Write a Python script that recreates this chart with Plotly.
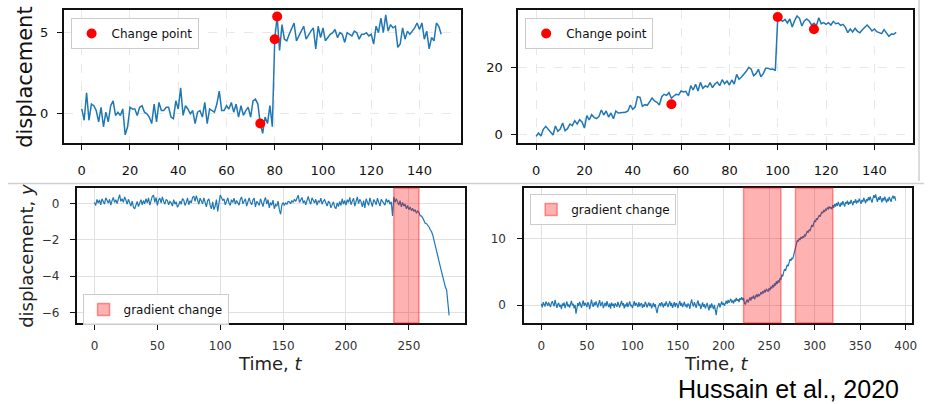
import plotly.graph_objects as go

# ---------------- data ----------------
# panel A (top-left): mean shift
t_a = list(range(150))
y_a = [0.3, -0.4, 1.3, -0.4, 0.6, 0.5, 0.2, -0.5, 0.4, -0.8, 0.1, -0.5, 0.5, 0.8, -0.1, 0.1, -0.1, 0.3, -1.3, -0.8,
       0.4, 0.3, 0.3, -0.1, 0.4, 0.5, 0.1, 0.0, -0.2, -0.6, 0.6, -0.5, 0.7, 0.2, 0.2, 0.4, 0.4, -0.2, -0.3, 0.8,
       0.3, 1.6, -0.1, 0.5, 0.3, 0.0, 0.2, -0.6, 0.1, 0.2, -0.2, 0.7, -0.6, 0.3, 0.2, 0.1, 0.6, 1.4, 0.2, 0.2,
       0.5, 0.3, 0.7, 0.1, 0.6, -0.2, 0.5, -0.1, 0.2, 0.4, -0.2, 0.8, 0.9, 0.6, -0.6, -1.2, -0.2, -0.6, 0.5, -0.8,
       4.6, 6.0, 3.9, 5.5, 4.6, 4.5, 4.9, 5.3, 5.6, 4.5, 4.8, 5.2, 5.4, 4.6, 4.9, 5.1, 5.3, 4.0, 5.4, 4.7,
       5.3, 4.5, 4.7, 4.9, 5.0, 5.2, 4.7, 5.0, 4.9, 4.4, 5.0, 4.9, 4.8, 5.1, 5.0, 4.6, 4.9, 4.9, 5.0, 4.8,
       4.9, 4.3, 5.4, 5.0, 5.9, 5.0, 6.1, 5.1, 5.5, 5.3, 5.4, 4.1, 4.3, 5.3, 4.6, 5.1, 4.9, 5.1, 5.3, 5.6,
       5.2, 5.6, 4.6, 5.1, 4.0, 4.7, 4.5, 5.6, 5.4, 4.9]
cp_a_t = [74, 80, 81]
cp_a_y = [-0.6, 4.6, 6.0]

# panel B (top-right): trend + jump
t_b = list(range(150))
y_b = [-0.6, 0.4, -0.5, 1.5, 2.4, 1.6, 0.8, -0.2, 2.5, 0.9, 1.6, 3.4, 1.1, 1.7, 3.1, 2.6, 4.1, 3.1, 4.4, 3.7,
       1.9, 5.6, 4.3, 5.9, 5.1, 4.7, 5.3, 7.3, 5.8, 7.0, 5.2, 6.4, 4.7, 7.0, 6.4, 6.5, 6.4, 6.6, 7.0, 8.8,
       7.5, 8.2, 11.3, 11.1, 8.4, 8.9, 8.7, 9.8, 10.9, 10.0, 9.6, 8.8, 11.3, 12.0, 11.7, 12.5, 10.8, 11.5, 12.0, 11.8,
       13.0, 12.7, 12.9, 11.5, 14.6, 13.3, 15.0, 13.0, 15.6, 13.8, 14.5, 14.2, 15.5, 14.0, 15.1, 15.7, 14.6, 16.4, 15.2, 16.0,
       14.8, 16.3, 15.1, 18.0, 16.5, 17.2, 18.0, 18.9, 20.1, 19.6, 17.6, 18.2, 19.5, 17.3, 18.2, 19.8, 19.8, 19.5, 19.6, 19.1,
       35.0, 34.3, 33.9, 34.5, 33.4, 34.6, 32.2, 34.1, 35.5, 34.8, 32.5, 34.0, 34.6, 34.0, 32.8, 33.3, 32.6, 35.0, 33.2, 33.5,
       33.0, 33.5, 32.8, 33.9, 33.2, 33.4, 32.7, 33.0, 32.1, 30.5, 31.6, 30.7, 31.8, 30.9, 30.5, 31.4, 32.0, 32.8, 32.0, 31.0,
       31.6, 30.8, 30.5, 30.2, 31.4, 30.4, 29.4, 30.1, 30.0, 30.6]
cp_b_t = [56, 100, 115]
cp_b_y = [9.0, 35.2, 31.5]

# panel C (bottom-left): accelerating decline
t_c = list(range(283))
y_c = [0.05, -0.12, 0.21, 0.02, 0.18, -0.08, 0.25, 0.10, -0.05, 0.30, 0.12, 0.02, 0.22, -0.10, 0.15, 0.32, 0.05, 0.20, -0.02, 0.28,
       0.48, 0.10, 0.25, 0.05, 0.35, 0.18, -0.05, 0.22, 0.08, -0.15, 0.12, -0.22, -0.30, -0.05, 0.10, -0.18, 0.05, 0.20, -0.08, 0.15,
       -0.02, 0.25, 0.02, 0.30, -0.10, 0.12, 0.38, 0.45, 0.05, 0.32, -0.12, 0.18, 0.28, 0.02, 0.35, 0.10, -0.05, 0.22, 0.15, -0.08,
       0.10, 0.02, -0.15, 0.20, -0.05, 0.08, -0.22, -0.10, 0.12, -0.05, 0.25, 0.18, -0.12, 0.05, 0.30, -0.08, 0.15, 0.02, 0.32, 0.40,
       0.10, 0.42, 0.22, -0.05, 0.28, 0.12, -0.02, 0.30, 0.05, -0.20, 0.15, 0.25, -0.10, -0.30, 0.08, -0.35, -0.15, 0.20, -0.45, 0.05,
       0.45, 0.32, 0.15, 0.25, -0.08, 0.10, 0.30, 0.02, -0.12, 0.20, 0.05, 0.28, -0.05, 0.15, 0.02, -0.10, 0.22, 0.35, -0.02, 0.12,
       0.25, -0.15, 0.10, 0.30, 0.05, -0.08, 0.18, 0.28, -0.20, 0.10, 0.02, -0.12, 0.25, 0.08, -0.18, 0.15, 0.32, -0.05, 0.20, -0.25,
       0.05, -0.10, 0.18, -0.30, -0.08, -0.15, 0.12, -0.35, -0.60, -0.10, 0.05, -0.12, 0.02, -0.05, 0.10, 0.08, -0.02, 0.15, 0.05, 0.22,
       0.10, 0.28, 0.45, 0.05, 0.20, 0.32, 0.02, 0.15, -0.08, 0.25, 0.38, 0.10, -0.05, 0.30, 0.18, 0.02, 0.22, -0.10, 0.15, 0.05,
       0.28, -0.05, 0.12, 0.20, 0.02, -0.15, 0.10, 0.05, -0.25, -0.10, 0.08, -0.20, -0.30, 0.02, -0.18, 0.10, -0.12, 0.25, -0.05, 0.15,
       -0.10, 0.20, 0.05, 0.32, -0.08, 0.12, 0.28, -0.15, 0.10, 0.35, -0.02, 0.22, 0.08, -0.20, 0.15, -0.25, 0.25, 0.05, -0.12, 0.30,
       0.02, -0.18, 0.20, 0.10, -0.08, 0.28, 0.05, -0.15, 0.22, 0.12, 0.02, -0.10, 0.25, 0.05, 0.18, -0.05, 0.08, -0.70, 0.35, 0.05,
       0.25, 0.10, -0.10, 0.15, -0.20, 0.05, -0.15, -0.05, -0.30, -0.12, -0.35, -0.20, -0.40, -0.28, -0.45, -0.35, -0.55, -0.42, -0.50, -0.68,
       -0.70, -0.80, -0.95, -1.10, -1.12, -1.20, -1.30, -1.45, -1.55, -1.75, -2.00, -2.25, -2.55, -2.90, -3.20, -3.50, -3.75, -4.10, -4.45, -4.60,
       -4.75, -5.50, -6.15]
bands_c = [(238, 258)]

# panel D (bottom-right): S-shaped rise
t_d = list(range(390))
y_d = [0.20, -0.35, 0.45, 0.10, -0.20, 0.55, 0.25, -0.10, 0.40, 0.05, -0.30, 0.30, 0.60, 0.15, -0.15, 0.80, 0.20, -0.40, 0.10, 0.35,
       -0.25, 0.05, -0.60, 0.25, -0.10, 0.40, -0.45, 0.15, 0.55, -0.20, 0.10, -0.35, 0.30, 0.65, -0.05, 0.20, -0.50, 0.05, -1.30, -0.20,
       0.30, -0.15, 0.50, 0.10, -0.40, 0.20, 0.70, -0.10, 0.35, 0.05, -0.30, 0.45, 0.15, -0.60, 0.25, 0.85, 0.10, -0.25, 0.40, -0.05,
       0.55, 0.20, -0.35, 0.30, 0.75, -0.15, 0.15, 0.50, -0.45, 0.05, 0.35, -0.20, 0.60, 0.10, -0.30, 0.25, -0.55, 0.40, -0.10, 0.20,
       -0.40, 0.30, 0.05, -0.25, 0.50, 0.15, -0.35, 0.20, 0.65, -0.05, 0.30, -0.50, 0.10, -0.20, 0.40, -0.30, 0.15, 0.55, -0.15, 0.05,
       -0.45, 0.25, 0.60, -0.10, 0.35, 0.05, -0.30, 0.45, -0.20, 0.15, 0.30, -0.40, 0.10, -0.25, 0.50, 0.20, -0.35, 0.05, 0.40, -0.15,
       0.25, -0.50, 0.10, 0.35, -0.30, 0.15, -0.65, -1.20, -0.40, 0.05, 0.30, -0.20, 0.45, 0.10, -0.35, 0.25, -0.10, 0.55, 0.05, -0.30,
       0.20, 0.60, -0.15, 0.35, -0.40, 0.10, 0.45, -0.25, 0.30, 0.05, -0.45, 0.20, 0.65, -0.10, 0.35, -0.30, 0.15, 0.50, -0.20, 0.10,
       -0.35, 0.25, 0.05, -0.55, 0.30, 0.85, 0.15, -0.20, 0.45, 0.05, -0.40, 0.30, 0.70, -0.10, 0.20, -0.60, 0.10, 0.40, -0.25, 0.15,
       -0.50, 0.05, 0.35, -0.30, -0.80, 0.10, -0.45, 0.25, -0.15, -0.60, 0.05, -0.90, -1.50, -0.40, -0.10, 0.30, -0.35, 0.20, 0.55, 0.05,
       0.30, -0.10, 0.45, 0.65, 0.20, 0.80, 0.35, 0.60, 0.95, 0.40, 0.70, 0.25, 0.85, 0.55, 1.10, 0.65, 0.90, 0.45, 1.05, 0.80,
       1.20, 0.75, 1.05, 0.30, 0.10, 0.55, 0.85, 0.40, 0.95, 1.15, 0.70, 1.25, 1.00, 1.45, 0.90, 1.30, 1.60, 1.20, 1.70, 1.40,
       1.55, 1.95, 1.65, 2.10, 1.80, 2.30, 1.95, 2.45, 2.15, 2.05, 2.55, 2.25, 2.80, 2.50, 3.05, 2.70, 3.30, 2.95, 3.60, 3.20,
       3.75, 3.40, 4.10, 3.85, 4.60, 4.35, 5.00, 5.45, 5.20, 5.70, 6.10, 5.90, 6.50, 6.95, 6.70, 7.10, 7.00, 7.60, 8.10, 8.60,
       9.20, 9.80, 9.60, 10.10, 9.85, 10.30, 10.05, 10.40, 10.20, 10.60, 10.45, 10.90, 11.20, 10.95, 11.40, 11.25, 11.70, 12.10, 11.85, 12.40,
       12.80, 12.55, 13.10, 12.90, 13.30, 13.60, 13.35, 13.80, 14.10, 13.90, 14.30, 14.15, 14.50, 14.35, 14.70, 14.55, 14.90, 14.60, 14.80, 14.50,
       15.10, 14.70, 15.30, 14.90, 15.40, 15.00, 15.60, 15.20, 14.85, 15.50, 15.10, 15.70, 15.25, 14.90, 15.55, 15.35, 15.80, 15.15, 15.60, 15.30,
       15.90, 15.45, 15.10, 15.70, 15.50, 16.00, 15.35, 15.80, 15.55, 16.10, 15.65, 15.30, 15.90, 15.60, 16.20, 15.75, 15.40, 16.00, 15.70, 16.30,
       15.85, 16.40, 15.95, 15.50, 16.10, 16.60, 16.20, 16.75, 16.05, 15.60, 16.30, 15.90, 16.45, 16.00, 15.55, 16.20, 15.80, 16.40, 15.95, 15.50,
       16.10, 15.70, 16.35, 15.90, 15.60, 16.20, 16.55, 16.10, 16.45, 15.80]
bands_d = [(222, 263), (279, 320)]

# tick values
xt_top = [0, 20, 40, 60, 80, 100, 120, 140]
yt_a = [0, 5]
yt_b = [0, 20]
xt_c = [0, 50, 100, 150, 200, 250]
yt_c = [0, -2, -4, -6]
xt_d = [0, 50, 100, 150, 200, 250, 300, 350, 400]
yt_d = [0, 10]

# ---------------- layout helpers ----------------
W, H = 929, 404
FONT = "DejaVu Sans"
BLUE = "#1f77b4"


def fx(px):
    return px / W


def fy(py):
    return 1 - py / H


fig = go.Figure()

fig.add_trace(go.Scatter(x=t_a, y=y_a, mode="lines", line=dict(color=BLUE, width=1.5),
                         xaxis="x", yaxis="y", showlegend=False, hoverinfo="skip"))
fig.add_trace(go.Scatter(x=cp_a_t, y=cp_a_y, mode="markers", name="Change point",
                         marker=dict(color="red", size=10), xaxis="x", yaxis="y", legend="legend"))

fig.add_trace(go.Scatter(x=t_b, y=y_b, mode="lines", line=dict(color=BLUE, width=1.5),
                         xaxis="x2", yaxis="y2", showlegend=False, hoverinfo="skip"))
fig.add_trace(go.Scatter(x=cp_b_t, y=cp_b_y, mode="markers", name="Change point",
                         marker=dict(color="red", size=10), xaxis="x2", yaxis="y2", legend="legend2"))

fig.add_trace(go.Scatter(x=t_c, y=y_c, mode="lines", line=dict(color=BLUE, width=1.2),
                         xaxis="x3", yaxis="y3", showlegend=False, hoverinfo="skip"))
fig.add_trace(go.Scatter(x=t_d, y=y_d, mode="lines", line=dict(color=BLUE, width=1.2),
                         xaxis="x4", yaxis="y4", showlegend=False, hoverinfo="skip"))

shapes = []
for i, (a, b) in enumerate(bands_c):
    shapes.append(dict(type="rect", xref="x3", yref="y3 domain", x0=a, x1=b, y0=0, y1=1,
                       fillcolor="rgba(255,0,0,0.3)", line=dict(color="rgba(255,0,0,0.4)", width=1.5),
                       layer="above", showlegend=(i == 0), legend="legend3", name="gradient change"))
for i, (a, b) in enumerate(bands_d):
    shapes.append(dict(type="rect", xref="x4", yref="y4 domain", x0=a, x1=b, y0=0, y1=1,
                       fillcolor="rgba(255,0,0,0.3)", line=dict(color="rgba(255,0,0,0.4)", width=1.5),
                       layer="above", showlegend=(i == 0), legend="legend4", name="gradient change"))

# image-separator lines of the composite picture
shapes.append(dict(type="line", xref="paper", yref="paper", x0=fx(8), x1=1, y0=fy(183.5), y1=fy(183.5),
                   line=dict(color="#d0d0d0", width=1.5)))
shapes.append(dict(type="line", xref="paper", yref="paper", x0=fx(924), x1=fx(924), y0=fy(181), y1=1,
                   line=dict(color="#d0d0d0", width=1.5)))


def axis_style(top, tickcolor, standoff):
    return dict(showline=True, linecolor="#111111", linewidth=1.5, mirror=True,
                ticks="outside", ticklen=5, tickwidth=1.2, tickcolor="#111111",
                showgrid=True, gridcolor="#e8e8e8" if top else "#e0e0e0",
                griddash="dash" if top else "solid", gridwidth=1,
                zeroline=False, ticklabelstandoff=standoff,
                tickfont=dict(family=FONT, size=13 if top else 12, color=tickcolor))


def legend_style(px, py):
    return dict(x=fx(px), y=fy(py), xanchor="left", yanchor="top", bgcolor="rgba(255,255,255,0.9)",
                bordercolor="#cccccc", borderwidth=1, font=dict(family=FONT, size=12, color="#111111"),
                itemwidth=30)


fig.update_layout(
    width=W, height=H, margin=dict(l=0, r=0, t=0, b=0),
    paper_bgcolor="white", plot_bgcolor="white",
    font=dict(family=FONT),
    xaxis=dict(domain=[fx(64), fx(463)], anchor="y", range=[-7.5, 157], tickvals=xt_top,
               **axis_style(True, "#111111", 10)),
    yaxis=dict(domain=[fy(143), fy(10)], anchor="x", range=[-1.8, 6.4], tickvals=yt_a,
               **axis_style(True, "#111111", 6)),
    xaxis2=dict(domain=[fx(521), fx(918)], anchor="y2", range=[-7.4, 156], tickvals=xt_top,
                **axis_style(True, "#111111", 10)),
    yaxis2=dict(domain=[fy(143), fy(10)], anchor="x2", range=[-2.6, 37.3], tickvals=yt_b,
                **axis_style(True, "#111111", 6)),
    xaxis3=dict(domain=[fx(77), fx(468)], anchor="y3", range=[-14.2, 295], tickvals=xt_c,
                **axis_style(False, "#333333", 6)),
    yaxis3=dict(domain=[fy(323), fy(188)], anchor="x3", range=[-6.57, 0.84], tickvals=yt_c,
                **axis_style(False, "#333333", 8)),
    xaxis4=dict(domain=[fx(527), fx(917)], anchor="y4", range=[-18.9, 407], tickvals=xt_d,
                **axis_style(False, "#333333", 6)),
    yaxis4=dict(domain=[fy(323), fy(188)], anchor="x4", range=[-2.7, 17.7], tickvals=yt_d,
                **axis_style(False, "#333333", 9)),
    legend=legend_style(71, 18),
    legend2=legend_style(528, 18),
    legend3=legend_style(83, 294),
    legend4=legend_style(533, 194),
    shapes=shapes,
    annotations=[
        dict(text="displacement", x=fx(25), y=fy(77), xref="paper", yref="paper", textangle=-90,
             showarrow=False, xanchor="center", yanchor="middle",
             font=dict(family=FONT, size=21, color="#111111")),
        dict(text="displacement, <i>y</i>", x=fx(26), y=fy(256), xref="paper", yref="paper", textangle=-90,
             showarrow=False, xanchor="center", yanchor="middle",
             font=dict(family=FONT, size=18, color="#222222")),
        dict(text="Time, <i>t</i>", x=fx(272), y=fy(363), xref="paper", yref="paper",
             showarrow=False, xanchor="center", yanchor="middle",
             font=dict(family=FONT, size=18, color="#222222")),
        dict(text="Time, <i>t</i>", x=fx(720), y=fy(363), xref="paper", yref="paper",
             showarrow=False, xanchor="center", yanchor="middle",
             font=dict(family=FONT, size=18, color="#222222")),
        dict(text="Hussain et al., 2020", x=fx(793), y=fy(389), xref="paper", yref="paper",
             showarrow=False, xanchor="center", yanchor="middle",
             font=dict(family="Liberation Sans", size=25, color="#000000")),
    ],
)

fig.write_html("out.html", config={"displayModeBar": False},
               post_script="document.body.style.margin='0px';document.body.style.padding='0px';")
